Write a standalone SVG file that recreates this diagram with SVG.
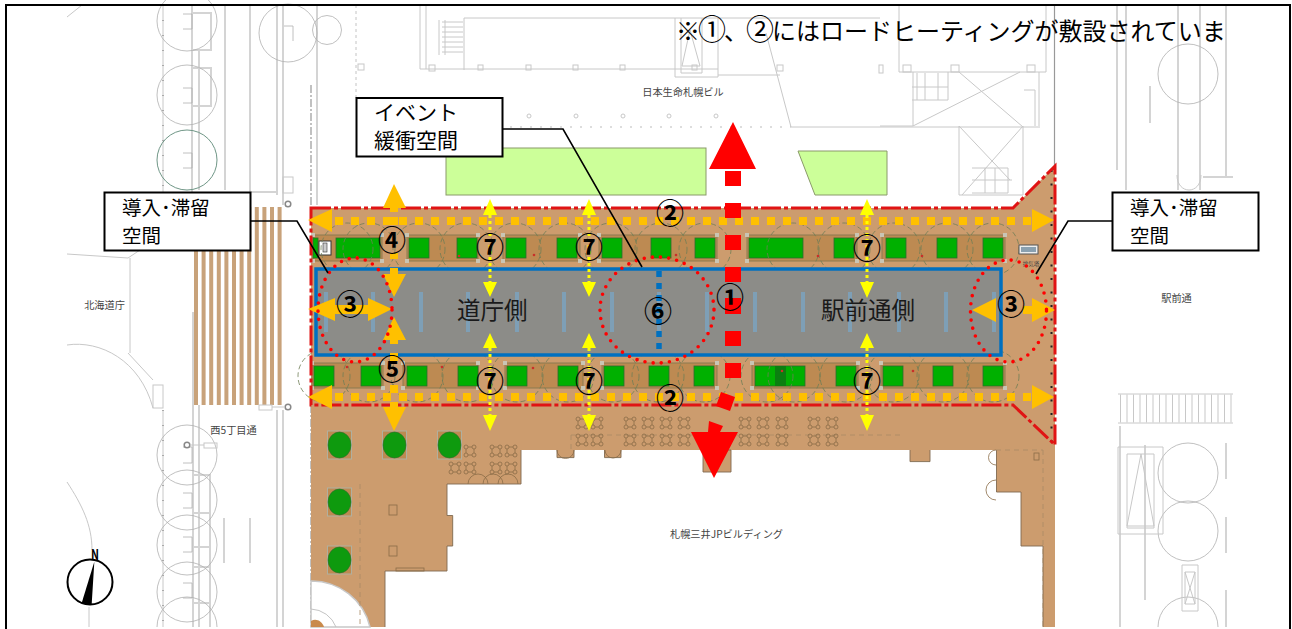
<svg xmlns="http://www.w3.org/2000/svg" width="1292" height="629" viewBox="0 0 1292 629">
<style>
text{font-family:"Noto Sans CJK JP","Noto Sans CJK SC",sans-serif;fill:#000}
.bg{fill:none;stroke:#c8c8c8;stroke-width:1}
.bg2{fill:none;stroke:#d4d4d4;stroke-width:2}
.dk{fill:none;stroke:#b0b0b0;stroke-width:.8}
.small{font-size:10.2px;fill:#444;text-anchor:middle}
.plant{fill:#bd8a52;stroke:#8a7a50;stroke-width:1;marker-start:url(#cr);marker-mid:url(#cr);marker-end:url(#cr)}
.gr{fill:#00b000;stroke:#2f6a2f;stroke-width:.8}
.tree{fill:none;stroke:#6f7d55;stroke-width:.8;stroke-dasharray:5 3}
.slot{fill:#7e9fb6}
.sq{fill:#bd8a52;stroke:#b0b0a0;stroke-width:1}
.or{fill:#ffc000}
.ord{fill:none;stroke:#ffc000;stroke-width:8;stroke-dasharray:8 8}
.ye{fill:#ffff00}
.yed{fill:none;stroke:#ffff00;stroke-width:3;stroke-dasharray:3 3}
.red{fill:#ff0000}
.dots{fill:none;stroke:#f00;stroke-width:3.6;stroke-linecap:round;stroke-dasharray:0 8.2}
.num{font-size:28px;text-anchor:middle;font-weight:700}
.box{fill:#fff;stroke:#000;stroke-width:2}
.lead{fill:none;stroke:#000;stroke-width:1.6}
.lab{font-size:19.5px}
.ev{font-size:21px}
.big{font-size:23.5px;fill:#1a1a1a}
.furn{fill:none;stroke:#8a6c48;stroke-width:.8}
.dash{fill:none;stroke:#a98a64;stroke-width:.8;stroke-dasharray:5 4}
</style>
<defs>
<marker id="cr" markerUnits="userSpaceOnUse" markerWidth="4" markerHeight="4" refX="2" refY="2"><rect width="4" height="4" fill="#c9c5b5"/></marker>
<g id="f"><circle cx="-4" cy="-4" r="2" class="furn"/><circle cx="4" cy="-4" r="2" class="furn"/><circle cx="-4" cy="4" r="2" class="furn"/><circle cx="4" cy="4" r="2" class="furn"/><path d="M-2-4H2M-2 4H2M-4-2V2M4-2V2" class="furn"/></g>
<g id="pl"><rect x="-12" y="-14" width="24" height="28" class="sq"/><ellipse rx="11.500" ry="13" fill="#0e9a0e" stroke="#2f6a2f" stroke-width=".6"/></g>
</defs>

<g id="background-plan">
<path class="bg" d="M67 17L82 5M67 254L128 258L140 250M130 258V353M67 345C100 340 140 360 153 408M128 353L153 380M67 482C82 505 92 525 92 550M89 607V627"/>
<rect class="bg" x="153" y="385" width="10" height="23"/>
<path class="bg2" d="M192 5V200M199 50V190M225 5V190M250 5V192M277 5V195M283 5V205M317 5V205M193 312V627M199 405V627M277 410V627M283 410V627M210 480V627M224 518V563M250 518V563M250 192H277M193 13H211V50H193M193 68H211V106H193M193 475H210V513H193M193 513H210V547H193M193 567H210V603H193"/>
<path class="bg" d="M163 5V192M163 410V627"/>
<path d="M163 5V192M163 410V627" fill="none" stroke="#aaa" stroke-width="2" stroke-dasharray="1 14"/>
<path d="M311 85V208M311 405V627" fill="none" stroke="#a0a0a0" stroke-width="1.3" stroke-dasharray="8 2 2 2"/>
<path d="M356 5V98" fill="none" stroke="#c4c4c4" stroke-dasharray="3 3"/>
<g class="dk"><circle cx="187" cy="21" r="30"/><circle cx="187" cy="95" r="30"/><circle cx="288" cy="33" r="29"/><circle cx="327" cy="30" r="14.500"/><circle cx="187" cy="455" r="30"/><circle cx="187" cy="500" r="30"/><circle cx="187" cy="545" r="30"/><circle cx="187" cy="592" r="30"/><path d="M157 627A30 30 0 0 1 217 627"/>
<path d="M183 14h9v15h-9M183 88h9v15h-9M183 153h9v15h-9M183 447h9v16h-9M183 493h9v15h-9M183 537h9v15h-9M183 583h9v15h-9M284 26h9v15"/></g>
<circle cx="187" cy="160" r="30" fill="none" stroke="#5f8a78" stroke-width=".9"/>
<line x1="194" y1="306" x2="283" y2="306" stroke="#c8a27a" stroke-width="198" stroke-dasharray="4 3.600"/>
<rect class="bg" x="283" y="177" width="10" height="16"/>
<g fill="#fff" stroke="#888" stroke-width="1.500"><circle cx="288" cy="204" r="2.800"/><circle cx="288" cy="407" r="2.800"/><circle cx="187" cy="445" r="2.800"/></g>
<path class="bg" d="M272 407H285M190 445H204"/>
<rect class="bg" x="259" y="405" width="13" height="5"/><rect class="bg" x="204" y="443" width="13" height="5"/>

<path class="bg" d="M420 5V69H718M426 5V69M464 18V70M464 18H880M675 18V77H718V18M681 18V73H702V18M718 75H780M766 33L791 127M791 127H1040M439 20V55M445 20V55"/>
<path d="M442 22H463M442 27H463M442 32H463M442 37H463M442 42H463M442 47H463M442 52H463" class="bg"/>
<path class="bg" d="M690 30L682 66H700Z"/>
<path d="M500 127H791" fill="none" stroke="#bbb" stroke-width="1.200" stroke-dasharray="2 8"/>
<g class="bg"><rect x="429" y="65" width="6" height="6"/><rect x="478" y="65" width="5" height="5"/><rect x="526" y="65" width="5" height="5"/><rect x="573" y="65" width="5" height="5"/><rect x="620" y="65" width="5" height="5"/><rect x="692" y="65" width="5" height="5"/><rect x="777" y="65" width="6" height="6"/><rect x="879" y="65" width="4" height="8"/><rect x="358" y="64" width="6" height="6"/>
<circle cx="529" cy="116" r="2"/><circle cx="576" cy="116" r="2"/><circle cx="623" cy="116" r="2"/><circle cx="669" cy="116" r="2"/><circle cx="716" cy="116" r="2"/></g>
<path class="bg" d="M899 5V72H1046V5M1039 72V126M913 72V126H880M959 72L1023 127M1020 72L913 126M959 126V195H1023V126M959 126L1010 180M1023 126L962 195M912 87H948M912 100H948M948 72V100M1024 90H1035V126M972 168H1008V193H972M972 180H1012M985 168V193M995 168V193M917 73V100M925 73V100M938 73V100"/>
<g class="bg"><rect x="903" y="65" width="8" height="7"/><rect x="951" y="65" width="8" height="7"/><rect x="1027" y="65" width="8" height="7"/></g>
<path d="M1054.500 5V166" fill="none" stroke="#999" stroke-width="1.200"/>
<path class="bg2" d="M1117 5V170M1126 5V190M1226 5V178M1200 5V190M1178 5V190M1203 177H1233M1150 86V123M1226 443V479M1226 517V553M1226 590V627M1120 426V627M1145 445V600"/>
<path class="bg" d="M1177 175C1177 195 1201 195 1201 175M1118 394H1233M1118 423H1233"/>
<path d="M1120 408.500H1233" stroke="#c8c8c8" stroke-width="28" fill="none" stroke-dasharray="1 5.500"/>
<g class="dk"><circle cx="1188" cy="74" r="30"/><circle cx="1188" cy="473" r="30"/><circle cx="1188" cy="531" r="30"/><path d="M1158 627A30 30 0 0 1 1218 627"/></g>
<path class="bg" d="M1118 447H1163V534H1118ZM1127 454H1154V528H1127ZM1141 454L1127 526H1154ZM1182 565H1198V611H1182ZM1185 572H1195V604H1185ZM1185 572L1195 604M1195 572L1185 604"/>
<text class="small" x="683" y="96">日本生命札幌ビル</text>
<text class="small" x="104.500" y="308.500">北海道庁</text>
<text class="small" x="233.500" y="433.500">西5丁目通</text>
<text class="small" x="1176.500" y="302">駅前通</text>
<text class="small" x="726.500" y="538">札幌三井JPビルディング</text>
</g>

<g id="lawns">
<rect x="446" y="148" width="260" height="47" fill="#ccff99" stroke="#8a9a6a"/>
<path d="M798 151H887V195H815Z" fill="#ccff99" stroke="#8a9a6a"/>
</g>

<g id="plaza">
<path d="M311 208H1013L1055 166V627H1043V546H1021V492H996.500V450H930V461.600H910V450H731V472H703V450H621V457.600H604.500V450H574V457.600H557V450H521V484H447V515.500H452.700V546H447V571H385V627H311Z" fill="#cc9c6e"/>
<path d="M703 450H731V472H703ZM557 450V457.600H574V450M604.500 450V457.600H621V450M910 450V461.600H930V450M996.500 450V492H1021V546H1043V627M521 450V484H447V515.500H452.700V546H447V571H385V627" fill="none" stroke="#7f6a50" stroke-width=".9"/>
<path d="M311 581A60 60 0 0 1 370 627H311Z" fill="#fff" stroke="#c8c8c8" stroke-width="1.500"/>
<path d="M311 609A28 28 0 0 1 336 627" fill="none" stroke="#c4c4c4"/>
<path d="M311 627V621C316 618 322 621 324 627Z" fill="#c98a4c"/>
<path class="dash" d="M571 435H900M360 484V627M1043 450V627M996 450H1043M571 435V450"/>
<g class="furn"><path d="M468 484A10 10 0 0 1 488 484M483 484A10 10 0 0 1 503 484M498 484A10 10 0 0 1 518 484M557 450A8 8 0 0 0 574 450M605 450A8 8 0 0 0 621 450M996 500A9 9 0 0 1 996 480M996 465A6 6 0 0 1 996 450"/>
<rect x="389" y="505" width="8" height="10"/><rect x="389" y="546" width="8" height="10"/><rect x="1034" y="453" width="5" height="7"/><rect x="396" y="568" width="28" height="3"/></g>
<use href="#f" x="582" y="423"/><use href="#f" x="597" y="423"/><use href="#f" x="582" y="440"/><use href="#f" x="597" y="440"/>
<use href="#f" x="630" y="423"/><use href="#f" x="648" y="423"/><use href="#f" x="666" y="423"/><use href="#f" x="684" y="423"/>
<use href="#f" x="630" y="440"/><use href="#f" x="648" y="440"/><use href="#f" x="666" y="440"/><use href="#f" x="684" y="440"/>
<use href="#f" x="745" y="423"/><use href="#f" x="763" y="423"/><use href="#f" x="782" y="423"/><use href="#f" x="745" y="440"/><use href="#f" x="763" y="440"/><use href="#f" x="782" y="440"/>
<use href="#f" x="814" y="423"/><use href="#f" x="832" y="423"/><use href="#f" x="814" y="440"/><use href="#f" x="832" y="440"/>
<use href="#f" x="470" y="451"/><use href="#f" x="496" y="451"/><use href="#f" x="511" y="451"/><use href="#f" x="455" y="468"/><use href="#f" x="470" y="468"/><use href="#f" x="496" y="468"/><use href="#f" x="511" y="468"/>
<path d="M1051.500 170V442" fill="none" stroke="#222" stroke-width="2" stroke-dasharray="2 11.500"/>
<use href="#pl" x="339.500" y="445"/><use href="#pl" x="394.500" y="445"/><use href="#pl" x="449.500" y="445"/><use href="#pl" x="339.500" y="502"/><use href="#pl" x="339.500" y="560"/>
</g>

<g id="planters">
<g>
<path class="plant" d="M313 235H382V261H313Z"/><path class="plant" d="M407 235H478V261H407Z"/><path class="plant" d="M503 235H580V261H503Z"/><path class="plant" d="M599 235H717V261H599Z"/><path class="plant" d="M747 235H857V261H747Z"/><path class="plant" d="M882 235H1005V261H882Z"/>
<path class="plant" d="M312 363H383V388H312Z"/><path class="plant" d="M403 363H478V388H403Z"/><path class="plant" d="M505 363H583V388H505Z"/><path class="plant" d="M602 363H717V388H602Z"/><path class="plant" d="M752 363H858V388H752Z"/><path class="plant" d="M881 363H1005V388H881Z"/>
</g>
<g class="gr">
<rect x="336" y="238" width="44" height="20"/><rect x="313" y="238" width="5" height="20"/><rect x="409" y="238" width="20" height="20"/><rect x="457" y="238" width="20" height="20"/><rect x="506" y="238" width="20" height="20"/><rect x="557" y="238" width="20" height="20"/><rect x="602" y="238" width="20" height="20"/><rect x="651" y="238" width="20" height="20"/><rect x="695" y="238" width="20" height="20"/><rect x="749" y="238" width="54" height="20"/><rect x="834" y="238" width="20" height="20"/><rect x="886" y="238" width="20" height="20"/><rect x="937" y="238" width="20" height="20"/><rect x="983" y="238" width="20" height="20"/>
<rect x="314" y="366" width="20" height="20"/><rect x="361" y="366" width="20" height="20"/><rect x="407" y="366" width="20" height="20"/><rect x="458" y="366" width="20" height="20"/><rect x="507" y="366" width="20" height="20"/><rect x="558" y="366" width="20" height="20"/><rect x="604" y="366" width="20" height="20"/><rect x="649" y="366" width="20" height="20"/><rect x="694" y="366" width="20" height="20"/><rect x="755" y="366" width="50" height="20"/><rect x="836" y="366" width="20" height="20"/><rect x="883" y="366" width="20" height="20"/><rect x="933" y="366" width="20" height="20"/><rect x="983" y="366" width="20" height="20"/>
</g>
<rect x="775" y="366" width="11" height="20" fill="#0b7f10"/>
<rect x="319" y="241" width="12" height="14" fill="#fff" stroke="#333"/><rect x="323" y="243" width="4" height="9" fill="#ccc" stroke="#333" stroke-width=".6"/>
<g class="tree">
<circle cx="347" cy="249" r="26"/><circle cx="369" cy="249" r="26"/><circle cx="419" cy="249" r="26"/><circle cx="466" cy="249" r="26"/><circle cx="515" cy="249" r="26"/><circle cx="565" cy="249" r="26"/><circle cx="611" cy="249" r="26"/><circle cx="661" cy="249" r="26"/><circle cx="705" cy="249" r="26"/><circle cx="793" cy="249" r="26"/><circle cx="844" cy="249" r="26"/><circle cx="894" cy="249" r="26"/><circle cx="947" cy="249" r="26"/><circle cx="993" cy="249" r="26"/>
<circle cx="324" cy="376" r="26"/><circle cx="369" cy="376" r="26"/><circle cx="417" cy="376" r="26"/><circle cx="468" cy="376" r="26"/><circle cx="517" cy="376" r="26"/><circle cx="568" cy="376" r="26"/><circle cx="613" cy="376" r="26"/><circle cx="658" cy="376" r="26"/><circle cx="704" cy="376" r="26"/><circle cx="767" cy="376" r="26"/><circle cx="794" cy="376" r="26"/><circle cx="846" cy="376" r="26"/><circle cx="893" cy="376" r="26"/><circle cx="943" cy="376" r="26"/><circle cx="993" cy="376" r="26"/>
</g>
<rect x="1019" y="245" width="19" height="9" fill="#eee" stroke="#555"/><rect x="1021" y="247" width="15" height="5" fill="#8aa0b0"/>
<text x="1031" y="266" font-size="5.500" text-anchor="middle" style="fill:#444">排気塔</text>
<g fill="#c8302a"><circle cx="357" cy="257" r="1.300"/><circle cx="459" cy="256" r="1.300"/><circle cx="534" cy="255" r="1.300"/><circle cx="676" cy="255" r="1.300"/><circle cx="818" cy="256" r="1.300"/><circle cx="922" cy="256" r="1.300"/><circle cx="347" cy="367" r="1.300"/><circle cx="442" cy="367" r="1.300"/><circle cx="533" cy="368" r="1.300"/><circle cx="913" cy="371" r="1.300"/><circle cx="782" cy="371" r="1.300"/></g>
</g>

<g id="road">
<rect x="316" y="269" width="685" height="86" fill="#8c8c88" stroke="#0070c0" stroke-width="3.500"/>
<g class="slot"><rect x="324" y="292" width="4" height="40"/><rect x="371" y="292" width="4" height="40"/><rect x="419" y="292" width="4" height="40"/><rect x="466" y="292" width="4" height="40"/><rect x="515" y="292" width="4" height="40"/><rect x="562" y="292" width="4" height="40"/><rect x="610" y="292" width="4" height="40"/><rect x="657" y="292" width="4" height="40"/><rect x="705" y="292" width="4" height="40"/><rect x="753" y="292" width="4" height="40"/><rect x="801" y="292" width="4" height="40"/><rect x="848" y="292" width="4" height="40"/><rect x="897" y="292" width="4" height="40"/><rect x="944" y="292" width="4" height="40"/><rect x="992" y="292" width="4" height="40"/></g>
<text class="big" x="457" y="319">道庁側</text>
<text class="big" x="821" y="319">駅前通側</text>
</g>

<g id="connectors">
<path d="M311 208H1013L1055 166V445L1013 405H311Z" fill="none" stroke="#e01414" stroke-width="3" stroke-dasharray="20 3 4 3"/>
<path class="ord" d="M335 221H1031"/>
<path class="ord" d="M335 397H1031"/>
<path class="or" d="M308 220L332 209V232ZM1054 220L1032 209V232ZM308 397L332 385V409ZM1054 397L1032 385V409Z"/>
<path class="or" d="M394 184L406 208H398V212H390V208H383ZM390 217H398V225H390ZM390 253H398V259H390ZM390 268H398V274H406L394 297L383 274H390ZM394 317L406 340H398V344H390V340H383ZM390 353H398V361H390ZM390 385H398V393H390ZM390 402H398V407H406L394 431L383 407H390Z"/>
<path class="or" d="M308 309L335 298V305H368V298L392 309L368 321V314H335V321ZM972 310L996 298V322ZM1055 310L1032 298V322ZM1023 306H1032V314H1023Z"/>
<g>
<path class="yed" d="M490 215V282M589 215V282M867 215V282M490 348V415M589 348V415M867 348V415"/>
<path class="ye" d="M490 199L497 215H483ZM490 297L497 282H483ZM589 199L596 215H582ZM589 297L596 282H582ZM867 199L874 215H860ZM867 298L874 282H860ZM490 333L497 348H483ZM490 431L497 415H483ZM589 333L596 348H582ZM589 431L596 415H582ZM867 333L874 348H860ZM867 431L874 415H860Z"/>
</g>
<path d="M659 271V350" fill="none" stroke="#0070c0" stroke-width="5.500" stroke-dasharray="6 6"/>
<path class="red" d="M733 122L756 169H709ZM725 171H741V186H725ZM725 203H741V218H725ZM725 235H741V250H725ZM725 267H741V282H725ZM725 298H741V314H725ZM725 331H741V346H725ZM725 363H741V378H725ZM721 392L735 397L730 411L716 406ZM691 432H708L709 421L723 426L720 432H738L714 478Z"/>
<g class="dots">
<ellipse cx="355" cy="310" rx="37" ry="52"/>
<ellipse cx="657" cy="310" rx="57" ry="53"/>
<ellipse cx="1008.500" cy="311" rx="38" ry="51"/>
</g>
<path class="lead" d="M251 221H297L328 273"/>
<path class="lead" d="M1112 221H1068L1036 274"/>
<path class="lead" d="M503 129H563L642 267"/>
</g>

<g id="numbers">
<text class="num" x="730" y="308">①</text>
<text class="num" x="670" y="224">②</text>
<text class="num" x="670" y="409">②</text>
<text class="num" x="350" y="315">③</text>
<text class="num" x="1011" y="315">③</text>
<text class="num" x="392" y="251">④</text>
<text class="num" x="392" y="380">⑤</text>
<text class="num" x="658" y="322">⑥</text>
<text class="num" x="490" y="258">⑦</text>
<text class="num" x="589" y="258">⑦</text>
<text class="num" x="867" y="259">⑦</text>
<text class="num" x="490" y="392">⑦</text>
<text class="num" x="589" y="392">⑦</text>
<text class="num" x="867" y="392">⑦</text>
</g>

<g id="note-left"><rect class="box" x="104.500" y="192.500" width="146" height="58"/><text class="lab" x="122" y="215">導入･滞留</text><text class="lab" x="122" y="243">空間</text></g>
<g id="note-right"><rect class="box" x="1112.500" y="192.500" width="146" height="58"/><text class="lab" x="1130" y="215">導入･滞留</text><text class="lab" x="1130" y="243">空間</text></g>
<g id="note-event"><rect class="box" x="356.500" y="98" width="146" height="58.500"/><text class="ev" x="374" y="120">イベント</text><text class="ev" x="374" y="148">緩衝空間</text></g>

<g id="north"><circle cx="90" cy="582" r="22.500" fill="#fff" stroke="#000" stroke-width="2"/><path d="M94.300 561.700L81.700 603Q86 605 91.700 604Z" fill="#000"/><text x="95" y="560" font-size="15" font-weight="700" text-anchor="middle" textLength="8" lengthAdjust="spacingAndGlyphs">N</text></g>
<text id="note-top" x="676" y="40" font-size="24">※<tspan font-size="28" dx="-2">①</tspan><tspan dx="-2">、</tspan><tspan font-size="28" dx="-2">②</tspan><tspan dx="-2">にはロードヒーティングが敷設されていま</tspan></text>
<path id="frame" d="M6 629V5H1290V629" fill="none" stroke="#000" stroke-width="2"/>
</svg>
